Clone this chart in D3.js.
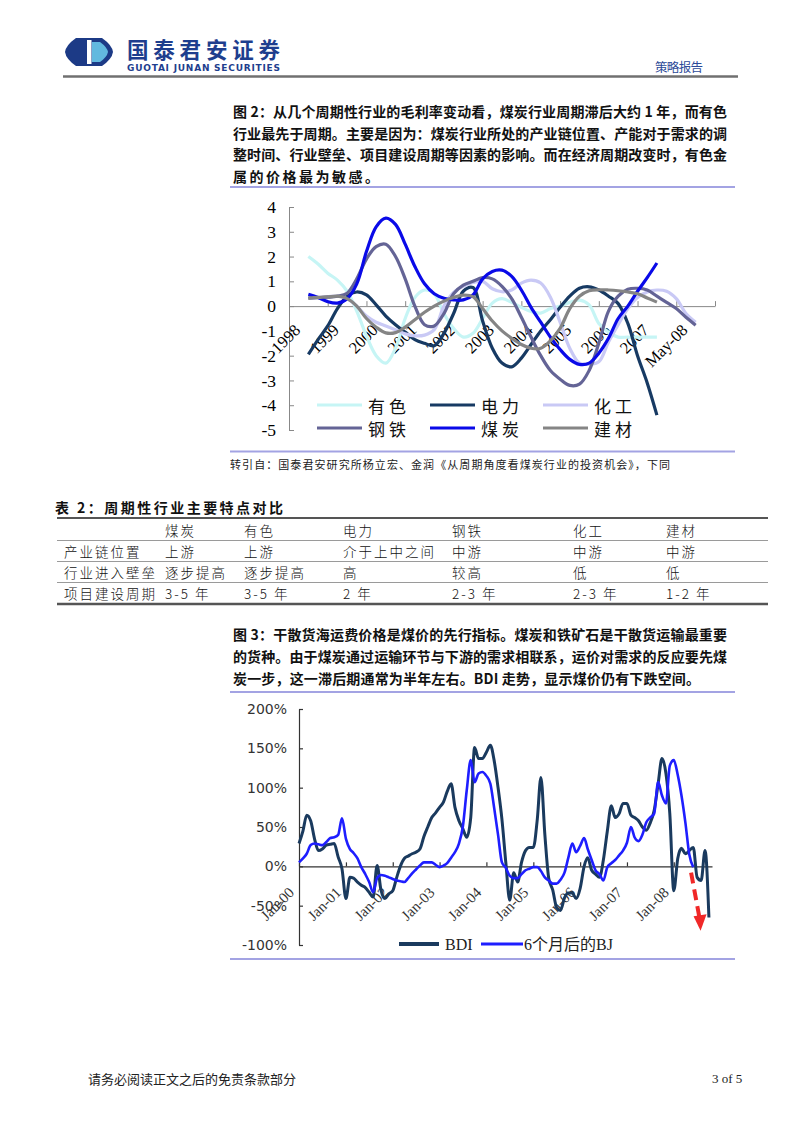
<!DOCTYPE html>
<html><head><meta charset="utf-8">
<script src="https://cdn.jsdelivr.net/npm/d3@7"></script>
<style>body{margin:0;background:#fff;}</style>
</head><body><div id="page"></div>
<script>
// ---------------- DATA ----------------
// Figure 2: gross-margin cycle indicators, quarterly points from 1998 to May-08
const xLabels1 = ["1998","1999","2000","2001","2002","2003","2004","2005","2006","2007","May-08"];
const yTicks1 = [4,3,2,1,0,-1,-2,-3,-4,-5];
const youse   = [2.0,1.7,1.33,1.05,0.6,-0.2,-1.2,-2.0,-2.3,-1.7,-0.5,0.35,0.65,0.5,-0.3,-0.9,-1.25,-1.1,-0.5,0.12,0.3,0.15,-0.05,-0.22,-0.28,-0.1,0.0,0.15,0.24,0.05,-0.7,-1.05,-1.25,-1.25,-1.25,-1.25,-1.25];
const dianli  = [-1.95,-1.35,-0.8,-0.1,0.4,0.57,0.45,0.05,-0.4,-0.75,-1.05,-1.35,-1.5,-1.6,-1.1,-0.3,0.6,0.75,-0.6,-1.7,-2.3,-2.45,-2.1,-1.55,-1.0,-0.55,-0.05,0.4,0.72,0.78,0.65,0.4,0.1,-0.7,-2.0,-3.1,-4.4];
const huagong = [0.35,0.35,0.38,0.4,0.3,0.0,-0.4,-0.65,-0.8,-0.95,-1.12,-1.2,-1.17,-0.95,0.0,0.55,0.8,0.95,1.0,0.7,0.58,0.65,0.93,1.05,0.93,0.36,-0.65,-1.7,-2.3,-2.35,-2.25,-1.45,-0.75,-0.1,0.35,0.57,0.65,0.6,0.3,-0.3,-0.65];
const gangtie = [0.32,0.34,0.36,0.4,0.52,1.1,1.9,2.4,2.5,2.0,1.1,0.0,-0.75,-0.8,-0.3,0.5,0.85,1.0,1.15,1.1,0.8,0.3,-0.45,-1.25,-2.0,-2.6,-2.95,-3.2,-3.15,-2.6,-1.5,-0.2,0.4,0.68,0.72,0.65,0.4,0.15,-0.1,-0.45,-0.77];
const meitan  = [0.48,0.35,0.18,0.12,0.3,0.9,2.2,3.2,3.55,3.3,2.5,1.6,0.9,0.5,0.32,0.25,0.25,0.45,1.1,1.4,1.45,1.2,0.65,-0.05,-0.65,-1.25,-1.75,-2.15,-2.35,-2.3,-1.9,-1.3,-0.5,0.0,0.6,1.15,1.74];
const jiancai = [0.32,0.35,0.37,0.4,0.3,0.0,-0.5,-0.85,-1.08,-1.07,-0.85,-0.55,-0.25,0.0,0.2,0.35,0.44,0.38,-0.1,-0.6,-1.0,-1.3,-1.55,-1.7,-1.7,-1.4,-0.9,-0.1,0.4,0.62,0.66,0.65,0.62,0.57,0.5,0.33,0.16];
const seriesNames1 = ["有色","电力","化工","钢铁","煤炭","建材"];

// Figure 3: BDI vs BJ (6 months later), monthly from Jan-00, % change
const yTicks2 = [200,150,100,50,0,-50,-100];
const xLabels2 = ["Jan-00","Jan-01","Jan-02","Jan-03","Jan-04","Jan-05","Jan-06","Jan-07","Jan-08"];
const bdi = [29,45,65,58,35,20,22,27,28,29,12,-3,
  -41,-14,-15,-20,-24,-27,-33,-39,1,-30,-41,-35,
  -31,-14,0,10,13,16,18,22,38,50,62,68,
  75,82,95,105,75,58,48,37,62,151,137,137,
  145,154,135,100,60,4,-43,-8,-20,5,20,24,
  24,60,113,40,-15,-30,-52,-56,-40,-34,-34,-41,
  -28,0,11,-5,-10,-14,8,45,77,62,67,80,
  80,65,62,58,50,46,55,71,105,137,118,67,
  -31,10,23,16,20,24,-14,-18,20,-65];
const bj = [5,10,16,27,29,28,27,31,36,37,40,61,
  35,22,17,10,-1,-10,-20,-33,-15,-11,-12,-14,
  -16,-18,-19,-20,-15,-9,-4,1,5,5,5,2,
  -1,1,4,11,18,29,50,97,135,107,118,120,
  115,105,75,40,5,-2,-12,-15,-15,-10,-5,-3,
  -1,-1,-6,-14,-18,-22,-22,-17,-8,11,29,18,
  26,36,22,8,-5,-10,-18,-1,4,8,14,20,
  30,50,37,32,40,56,62,67,107,90,80,128,
  135,116,90,55,15,-1];
const seriesNames2 = ["BDI","6个月后的BJ"];

// Table 2
const tableHeader = ["","煤炭","有色","电力","钢铁","化工","建材"];
const tableRows = [
  ["产业链位置","上游","上游","介于上中之间","中游","中游","中游"],
  ["行业进入壁垒","逐步提高","逐步提高","高","较高","低","低"],
  ["项目建设周期","3-5 年","3-5 年","2 年","2-3 年","2-3 年","1-2 年"]
];

// ---------------- DRAW ----------------
const CJK = "'Noto Sans CJK SC','Noto Sans',sans-serif";
const SERIF = "'Liberation Serif','Times New Roman',serif";
const svg = d3.select('#page').append('svg').attr('width',802).attr('height',1134)
  .style('display','block').style('background','#fff');

function T(g, s, x, y, o={}) {
  const t = g.append('text').attr('x',x).attr('y',y).text(s)
    .attr('font-family', o.ff || CJK).attr('font-size', o.fs || 14)
    .attr('fill', o.fill || '#111').attr('dominant-baseline','central');
  if (o.fw) t.attr('font-weight', o.fw);
  if (o.anchor) t.attr('text-anchor', o.anchor);
  if (o.len) t.attr('textLength', o.len).attr('lengthAdjust','spacing');
  if (o.ls) t.attr('letter-spacing', o.ls);
  return t;
}

// Header
const hd = svg.append('g');
hd.append('path').attr('d','M76,38 L102,38 Q112,45 113,52 Q112,59 102,66 L76,66 Q66,59 65,52 Q66,45 76,38 Z').attr('fill','#1c3a86');
hd.append('path').attr('d','M92,42 L100,42 Q107,47 108,52 Q107,57 100,62 L92,62 Z').attr('fill','#62b9df');
hd.append('rect').attr('x',87).attr('y',40).attr('width',4.5).attr('height',24).attr('fill','#fff');
T(hd,'国泰君安证券',127,48.5,{fs:21.5,fw:'bold',fill:'#1e3e8e',len:153});
T(hd,'GUOTAI JUNAN SECURITIES',127,67.5,{fs:9,fw:'bold',fill:'#1e3e8e',len:153,ff:"'DejaVu Sans',sans-serif"});
T(hd,'策略报告',655,66,{fs:12.5,fill:'#2c4a98',len:48});
hd.append('line').attr('x1',63).attr('x2',738).attr('y1',76.5).attr('y2',76.5).attr('stroke','#707070').attr('stroke-width',2.5);

// Caption figure 2
const cap2 = ["图 2：从几个周期性行业的毛利率变动看，煤炭行业周期滞后大约 1 年，而有色",
  "行业最先于周期。主要是因为：煤炭行业所处的产业链位置、产能对于需求的调",
  "整时间、行业壁垒、项目建设周期等因素的影响。而在经济周期改变时，有色金",
  "属的价格最为敏感。"];
cap2.forEach((s,i)=>T(svg,s,233,111+i*21.5,{fs:14,fw:600,len: i<3?494:146}));
const sepColor = '#a3a3e3';
svg.append('line').attr('x1',230).attr('x2',735).attr('y1',187).attr('y2',187).attr('stroke',sepColor).attr('stroke-width',2);

// Chart 1
const x1 = d3.scaleLinear().domain([-0.5,10.5]).range([289,715]);
const y1 = d3.scaleLinear().domain([-5,4]).range([430,207]);
const c1 = svg.append('g');
const ya1 = c1.append('g').attr('transform','translate(289,0)')
  .call(d3.axisLeft(y1).tickValues(yTicks1).tickSize(-5).tickSizeOuter(0).tickPadding(13).tickFormat(d=>String(d)));
ya1.selectAll('text').attr('font-family',SERIF).attr('font-size',17.5).attr('fill','#000');
ya1.selectAll('line,path').attr('stroke','#888');
const xa1 = c1.append('g').attr('transform',`translate(0,${y1(0)})`)
  .call(d3.axisBottom(x1).tickValues(d3.range(-0.5,10.6,1)).tickSize(-5).tickSizeOuter(0).tickFormat(''));
xa1.selectAll('line,path').attr('stroke','#888');
xLabels1.forEach((s,i)=>{
  c1.append('text').text(s).attr('transform',`translate(${x1(i)-7},${y1(0)+25}) rotate(-45)`)
    .attr('text-anchor','end').attr('font-family',SERIF).attr('font-size',16.5).attr('fill','#000');
});
const s1 = [
  {name:seriesNames1[0], v:youse, c:'#c6f5f5'},
  {name:seriesNames1[1], v:dianli, c:'#173a63'},
  {name:seriesNames1[2], v:huagong, c:'#c9c9f5'},
  {name:seriesNames1[3], v:gangtie, c:'#646496'},
  {name:seriesNames1[4], v:meitan, c:'#0a0ae8'},
  {name:seriesNames1[5], v:jiancai, c:'#858585'}
];
const line1 = d3.line().x((d,i)=>x1(i/4)).y(d=>y1(d)).curve(d3.curveCatmullRom.alpha(0.5));
s1.forEach(s=>c1.append('path').attr('d',line1(s.v)).attr('fill','none').attr('stroke',s.c).attr('stroke-width',3.2).attr('stroke-linejoin','round'));
// legend
const lgX = [317,430,543];
s1.forEach((s,i)=>{
  const col = i%3, row = Math.floor(i/3);
  const yy = 405 + row*23;
  c1.append('line').attr('x1',lgX[col]).attr('x2',lgX[col]+45).attr('y1',yy).attr('y2',yy).attr('stroke',s.c).attr('stroke-width',3.2);
  T(c1,s.name,lgX[col]+51,yy,{fs:17,fill:'#111',ls:4});
});
svg.append('line').attr('x1',230).attr('x2',735).attr('y1',451.5).attr('y2',451.5).attr('stroke',sepColor).attr('stroke-width',2);
T(svg,'转引自：国泰君安研究所杨立宏、金润《从周期角度看煤炭行业的投资机会》，下同',230,464,{fs:11,len:440,fill:'#222'});

// Table
T(svg,'表 2：周期性行业主要特点对比',55,507,{fs:14,fw:'bold',len:228});
const tg = svg.append('g');
const colX = [64,165,244,343,452,573,666];
const rowY = [530,551,572,593];
tg.append('line').attr('x1',57).attr('x2',768).attr('y1',518).attr('y2',518).attr('stroke','#555').attr('stroke-width',2);
[540.5,561.5,582.5].forEach(yy=>tg.append('line').attr('x1',57).attr('x2',768).attr('y1',yy).attr('y2',yy).attr('stroke','#9a9a9a').attr('stroke-width',1));
tg.append('line').attr('x1',57).attr('x2',768).attr('y1',604).attr('y2',604).attr('stroke','#555').attr('stroke-width',2.5);
tableHeader.forEach((s,j)=>{ if(s) T(tg,s,colX[j],rowY[0],{fs:13.5,fw:300,ls:2}); });
tableRows.forEach((r,i)=>r.forEach((s,j)=>T(tg,s,colX[j],rowY[i+1],{fs:13.5,fw:300,ls:2})));

// Caption figure 3
const cap3 = ["图 3：干散货海运费价格是煤价的先行指标。煤炭和铁矿石是干散货运输最重要",
  "的货种。由于煤炭通过运输环节与下游的需求相联系，运价对需求的反应要先煤",
  "炭一步，这一滞后期通常为半年左右。BDI 走势，显示煤价仍有下跌空间。"];
cap3.forEach((s,i)=>T(svg,s,233,634+i*22,{fs:14,fw:600,len: i<2?494:467}));
svg.append('line').attr('x1',230).attr('x2',735).attr('y1',692).attr('y2',692).attr('stroke',sepColor).attr('stroke-width',2);
svg.append('line').attr('x1',230).attr('x2',735).attr('y1',959).attr('y2',959).attr('stroke',sepColor).attr('stroke-width',2);

// Chart 2
const x2 = d3.scaleTime().domain([new Date(2000,0,1), new Date(2008,9,25)]).range([299,712]);
const y2 = d3.scaleLinear().domain([-100,200]).range([945,709]);
const c2 = svg.append('g');
const ya2 = c2.append('g').attr('transform','translate(299,0)')
  .call(d3.axisLeft(y2).tickValues(yTicks2).tickSize(-4).tickSizeOuter(0).tickPadding(12).tickFormat(d=>d+'%'));
ya2.selectAll('text').attr('font-family',"'DejaVu Sans',sans-serif").attr('font-size',14).attr('fill','#333');
ya2.selectAll('line,path').attr('stroke','#333').attr('stroke-width',1.2);
const yearTicks = xLabels2.map((s,i)=>new Date(2000+i,0,1));
const xa2 = c2.append('g').attr('transform',`translate(0,${y2(0)})`)
  .call(d3.axisBottom(x2).tickValues(yearTicks).tickSize(-4).tickSizeOuter(0).tickFormat(''));
xa2.selectAll('line,path').attr('stroke','#333').attr('stroke-width',1.2);
xLabels2.forEach((s,i)=>{
  c2.append('text').text(s).attr('transform',`translate(${x2(yearTicks[i])-4},${y2(0)+27}) rotate(-45)`)
    .attr('text-anchor','end').attr('font-family',SERIF).attr('font-size',15).attr('fill','#333');
});
const line2 = d3.line().x((d,i)=>x2(new Date(2000,i,1))).y(d=>y2(d)).curve(d3.curveMonotoneX);
c2.append('path').attr('d',line2(bdi)).attr('fill','none').attr('stroke','#1a3a5e').attr('stroke-width',3).attr('stroke-linejoin','round');
c2.append('path').attr('d',line2(bj)).attr('fill','none').attr('stroke','#1e1eff').attr('stroke-width',2.6).attr('stroke-linejoin','round');
// red dashed arrow annotation
const a0 = [x2(new Date(2008,4,15)), y2(-8)], a1 = [x2(new Date(2008,6,20)), y2(-66)], tip=[x2(new Date(2008,6,28)), y2(-82)];
c2.append('line').attr('x1',a0[0]).attr('y1',a0[1]).attr('x2',a1[0]).attr('y2',a1[1]).attr('stroke','#f02828').attr('stroke-width',4).attr('stroke-dasharray','11,6');
c2.append('path').attr('d',`M${tip[0]},${tip[1]} L${a1[0]-6},${a1[1]-2} L${a1[0]+7},${a1[1]-4} Z`).attr('fill','#f02828');
// legend
const lg2 = c2.append('g');
lg2.append('line').attr('x1',399).attr('x2',439).attr('y1',944).attr('y2',944).attr('stroke','#1a3a5e').attr('stroke-width',4);
T(lg2,seriesNames2[0],445,944,{ff:SERIF,fs:16,fill:'#222'});
lg2.append('line').attr('x1',481).attr('x2',523).attr('y1',944).attr('y2',944).attr('stroke','#1e1eff').attr('stroke-width',3);
T(lg2,seriesNames2[1],524,944,{ff:"'Liberation Serif','Noto Sans CJK SC',serif",fs:16,fill:'#222'});

// Footer
T(svg,'请务必阅读正文之后的免责条款部分',88,1078,{fs:13,len:208,fill:'#222'});
T(svg,'3 of 5',712,1078,{ff:SERIF,fs:13,fill:'#222'});
</script></body></html>
